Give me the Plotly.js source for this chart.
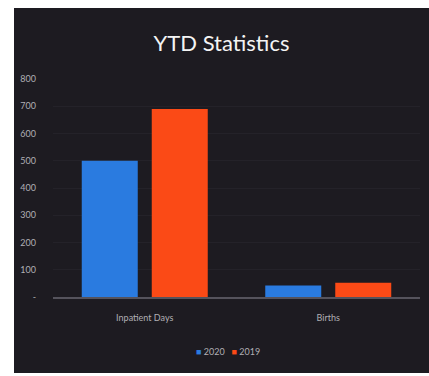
<!DOCTYPE html>
<html>
<head>
<meta charset="utf-8">
<script src="https://cdn.plot.ly/plotly-3.0.1.min.js"></script>
<style>
  html, body { margin: 0; padding: 0; background: #ffffff; width: 429px; height: 376px; overflow: hidden; }
  #chart { position: absolute; left: 14px; top: 8px; width: 415px; height: 365px; }
</style>
</head>
<body>
<div id="chart"></div>
<script>
// YTD statistics: inpatient days and births, 2020 vs 2019
const categories = ["Inpatient Days", "Births"];
const values2020 = [500, 42];
const values2019 = [690, 52];
const seriesNames = ["2020", "2019"];
const seriesColors = ["#2a7be0", "#fb4a16"];
const yTickVals = [0, 100, 200, 300, 400, 500, 600, 700, 800];
const yTickText = ["-", "100", "200", "300", "400", "500", "600", "700", "800"];

const traces = [values2020, values2019].map((vals, i) => ({
  type: "bar", name: seriesNames[i], x: categories, y: vals,
  marker: { color: seriesColors[i] }, hoverinfo: "x+y"
}));

// compact legend: small square swatch right beside each series name
const legendText = seriesNames
  .map((n, i) => `<span style="color:${seriesColors[i]}">■</span> ${n}`)
  .join("   ");

const layout = {
  width: 415, height: 365,
  paper_bgcolor: "#1d1b21",
  plot_bgcolor: "#1d1b21",
  margin: { l: 39, r: 9, t: 71, b: 76 },
  barmode: "group",
  bargap: 0.237,
  bargroupgap: 0.2,
  showlegend: false,
  title: {
    text: "YTD Statistics",
    font: { family: "Lato, 'Open Sans', sans-serif", size: 22, color: "#f4f4f4" },
    x: 0.5, xanchor: "center", y: 0.904, yanchor: "middle", yref: "container"
  },
  xaxis: {
    showgrid: false,
    showline: true, linecolor: "#55535c", linewidth: 1.5,
    ticks: "", ticklabelstandoff: 12,
    tickfont: { family: "Lato, sans-serif", size: 9, color: "#b0afb4" },
    fixedrange: true
  },
  yaxis: {
    range: [0, 800],
    tickvals: yTickVals, ticktext: yTickText,
    showgrid: true, gridcolor: "#242229", gridwidth: 1,
    zeroline: false, showline: false, ticks: "",
    ticklabelstandoff: 16,
    tickfont: { family: "Lato, sans-serif", size: 9, color: "#b0afb4" },
    fixedrange: true
  },
  annotations: [{
    text: legendText, xref: "paper", yref: "paper",
    x: 0.477, xanchor: "center", y: -0.248, yanchor: "middle",
    showarrow: false,
    font: { family: "Lato, sans-serif", size: 9, color: "#b0afb4" }
  }]
};

Plotly.newPlot("chart", traces, layout, { displayModeBar: false, staticPlot: true });
</script>
</body>
</html>
